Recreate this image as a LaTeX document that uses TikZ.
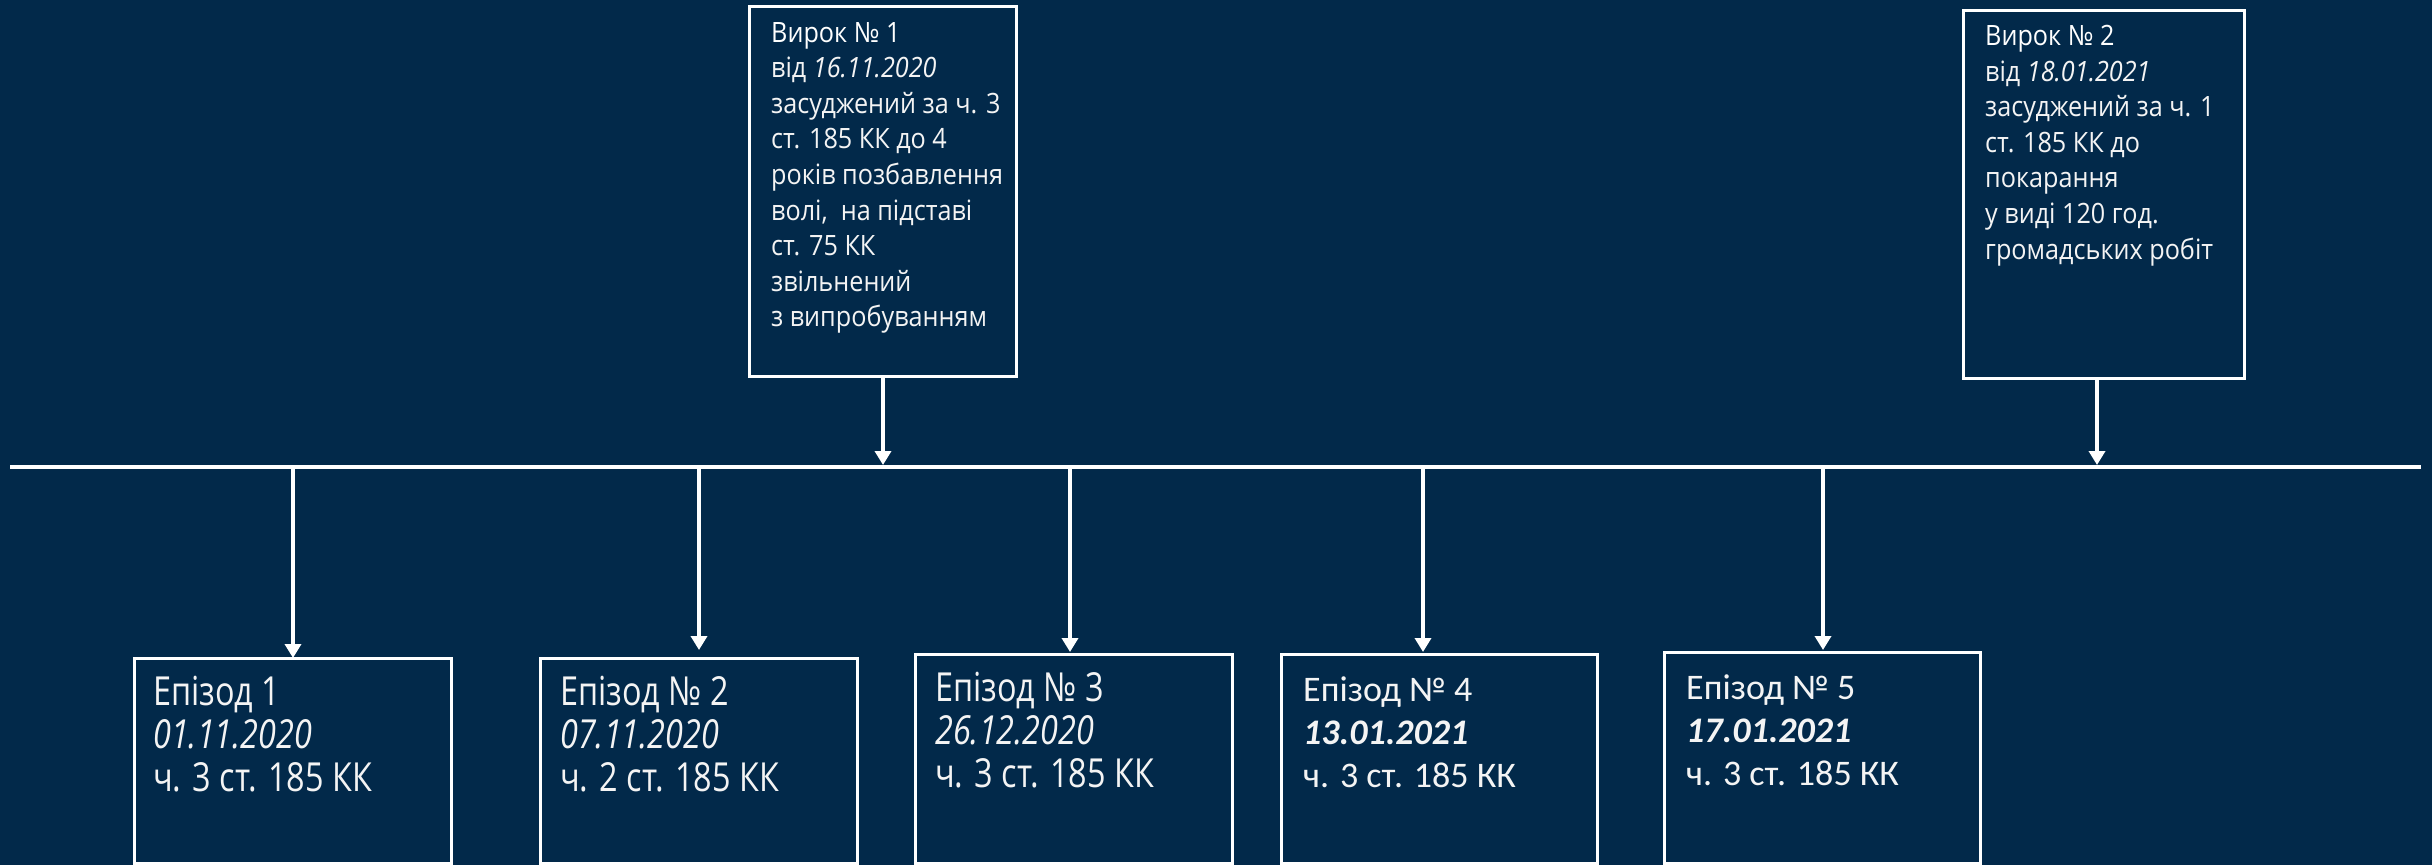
\documentclass[tikz,border=0pt]{standalone}
\usepackage{fontspec}
\setmainfont{Open Sans}
\newfontfamily\topfont[FakeStretch=0.9]{Open Sans}
\newfontfamily\condfont[FakeStretch=0.81]{Open Sans}
\newfontfamily\calfont{Carlito}
\usetikzlibrary{arrows.meta}
\definecolor{bg}{HTML}{02294A}
\definecolor{fg}{HTML}{F4F4F4}
\begin{document}
\begin{tikzpicture}[x=1pt,y=-1pt,
  box/.style={draw=white, line width=3pt, inner sep=0pt, outer sep=0pt, anchor=north west},
  toptext/.style={text=fg, inner sep=0pt, anchor=north west, align=left, font=\topfont\fontsize{28}{35.6}\selectfont},
  eptext/.style={text=fg, inner sep=0pt, anchor=north west, align=left, font=\condfont\fontsize{40}{43}\selectfont},
  caltext/.style={text=fg, inner sep=0pt, anchor=north west, align=left, font=\calfont\fontsize{36}{43}\selectfont},
  conn/.style={draw=white, line width=4pt, -{Triangle[width=16pt,length=14pt]}},
  tline/.style={draw=white, line width=4pt}]
\fill[bg] (0,0) rectangle (2432,865);
\useasboundingbox (0,0) rectangle (2432,865);

% timeline
\coordinate (tl) at (10,467);
\coordinate (tr) at (2421,467);
\draw[tline] (tl) -- (tr);

% verdict boxes
\node[box, minimum width=267pt, minimum height=370pt] (v1) at (749,6) {};
\node[toptext] (v1t) at (771,22) {\color{white}Вирок № 1\\від \textit{16.11.2020}\\засуджений за ч. 3\\ст. 185 КК до 4\\років позбавлення\\волі,~ на підставі\\ст. 75 КК\\звільнений\\з випробуванням};
\node[box, minimum width=281pt, minimum height=368pt] (v2) at (1963,10) {};
\node[toptext] (v2t) at (1985,25) {\color{white}Вирок № 2\\від \textit{18.01.2021}\\засуджений за ч. 1\\ст. 185 КК до\\покарання\\у виді 120 год.\\громадських робіт};

\coordinate (a1) at (883,465);
\coordinate (a2) at (2097,465);
\draw[conn] (v1.south -| a1) -- (a1);
\draw[conn] (v2.south -| a2) -- (a2);

% episode boxes
\node[box, minimum width=317pt, minimum height=205pt] (e1) at (134,658) {};
\node[box, minimum width=317pt, minimum height=205pt] (e2) at (540,658) {};
\node[box, minimum width=317pt, minimum height=209pt] (e3) at (915,654) {};
\node[box, minimum width=316pt, minimum height=209pt] (e4) at (1281,654) {};
\node[box, minimum width=316pt, minimum height=211pt] (e5) at (1664,652) {};

\node[eptext] (e1t) at (153,676) {Епізод 1\\\textit{01.11.2020}\\ч. 3 ст. 185 КК};
\node[eptext] (e2t) at (560,676) {Епізод № 2\\\textit{07.11.2020}\\ч. 2 ст. 185 КК};
\node[eptext] (e3t) at (935,672) {Епізод № 3\\\textit{26.12.2020}\\ч. 3 ст. 185 КК};
\node[caltext] (e4t) at (1303,677) {Епізод № 4\\\textbf{\textit{13.01.2021}}\\ч. 3 ст. 185 КК};
\node[caltext] (e5t) at (1686,675) {Епізод № 5\\\textbf{\textit{17.01.2021}}\\ч. 3 ст. 185 КК};

\coordinate (b1) at (293,467);
\coordinate (b2) at (699,467);
\coordinate (b3) at (1070,467);
\coordinate (b4) at (1423,467);
\coordinate (b5) at (1823,467);
\draw[conn] (b1) -- (e1.north -| b1);
\draw[conn, shorten >=8pt] (b2) -- (e2.north -| b2);
\draw[conn, shorten >=2pt] (b3) -- (e3.north -| b3);
\draw[conn, shorten >=2pt] (b4) -- (e4.north -| b4);
\draw[conn, shorten >=2pt] (b5) -- (e5.north -| b5);
\end{tikzpicture}
\end{document}
